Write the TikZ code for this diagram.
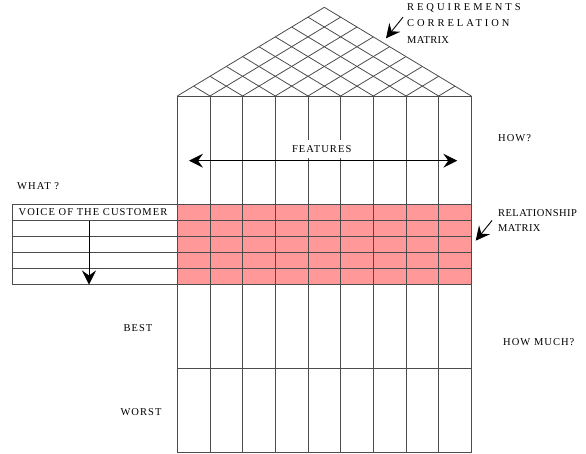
\documentclass[tikz,border=0pt]{standalone}
\usepackage{fontspec}
\setmainfont{Liberation Serif}
\usetikzlibrary{arrows.meta}
\definecolor{pink}{rgb}{1.0, 0.6, 0.6}
\definecolor{grid}{rgb}{0.3, 0.3, 0.3}
\tikzset{
	label/.style={font=\fontsize{10.5}{12}\selectfont\addfontfeature{LetterSpace=10},inner sep=1pt},
	gridline/.style={grid,line width=0.8pt},
	tip/.tip={Stealth[length=14pt,width=14pt,inset=5pt]},
	bigarrow/.style={-tip,line width=0.9pt}
}

\begin{document}
\begin{tikzpicture}[x=1pt,y=-1pt]
			\useasboundingbox (0,0) rectangle (586,453);
			\def\w{32.67}
			\def\hx{177.3}
			% relationship matrix
			\fill[pink] (\hx,204.5) rectangle (471.3,284.5);
			% roof
			\foreach \i in {0,...,8}
				\draw[gridline] (\hx+\i*\w,96) -- ++({(9-\i)*\w/2},{-(9-\i)*9.856});
			\foreach \i in {1,...,9}
				\draw[gridline] (\hx+\i*\w,96) -- ++({-\i*\w/2},{-\i*9.856});
			% columns
			\foreach \i in {0,...,9}
				\draw[gridline] (\hx+\i*\w,96) -- (\hx+\i*\w,452.5);
			\foreach \y in {96,204.5,220.5,236.5,252.5,268.5,284.5,368.8,452.5}
				\draw[gridline] (\hx,\y) -- (471.3,\y);
			% what table
			\foreach \y in {204.5,220.5,236.5,252.5,268.5,284.5}
				\draw[gridline] (12,\y) -- (\hx,\y);
			\draw[gridline] (12,204.5) -- (12,284.5);
			
			\node[label,fill=white,inner ysep=5pt] (features) at (321.7,149) {FEATURES};
			\node[label,anchor=west] (what) at (16,186) {WHAT ?};
			\node[label] (voice) at (93,212.5) {VOICE OF THE CUSTOMER};
			\node[label,anchor=west] (how) at (497,138) {HOW?};
			\node[label,anchor=west,align=left,font=\fontsize{10.5}{15}\selectfont\addfontfeature{LetterSpace=4}] (relation) at (497,220.5) {RELATIONSHIP\\MATRIX};
			\node[label] (best) at (138,328) {BEST};
			\node[label] (worst) at (141,412) {WORST};
			\node[label,anchor=west] (howmuch) at (502,342) {HOW MUCH?};
			\node[label,anchor=north west,align=left,font=\fontsize{10.5}{16.5}\selectfont] (corr) at (406,2)
				{\addfontfeature{LetterSpace=28}REQUIREMENTS\\\addfontfeature{LetterSpace=28}CORRELATION\\\addfontfeature{LetterSpace=3}MATRIX};
			
			\coordinate (fl) at (189,160.7);
			\coordinate (fr) at (457.3,160.7);
			\coordinate (vtop) at (89,221);
			\coordinate (vbot) at (89,284.5);
			\coordinate (rtip) at (475.7,240.7);
			\coordinate (ctip) at (386,38.3);
			\draw[bigarrow,tip-tip] (fl) -- (fr);
			\draw[bigarrow] (vtop) -- (vbot);
			\draw[bigarrow] (relation.west) ++(-5,0) -- (rtip);
			\draw[bigarrow] (corr.west) ++(-3,-6) -- (ctip);
\end{tikzpicture}
\end{document}
